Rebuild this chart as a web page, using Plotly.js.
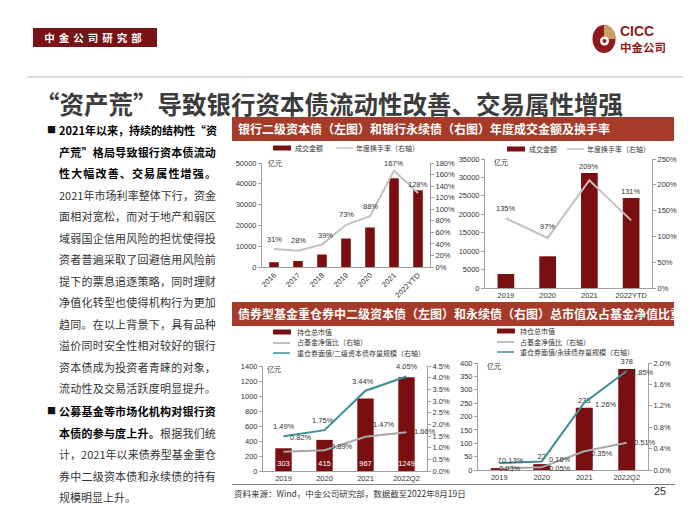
<!DOCTYPE html>
<html lang="zh-CN">
<head>
<meta charset="utf-8">
<script src="https://cdn.plot.ly/plotly-3.0.1.min.js"></script>
<style>
  html, body { margin: 0; padding: 0; background: #fff; }
  body { width: 700px; height: 525px; position: relative; overflow: hidden;
         font-family: "Noto Sans CJK SC", "Liberation Sans", sans-serif; }
  .abs { position: absolute; }
  #dept { left: 33px; top: 28px; width: 124px; height: 19px; background: #7a1315; color: #fff;
          font-size: 10.5px; font-weight: bold; line-height: 19px; text-align: center; letter-spacing: 4px; }
  #cicc { left: 620px; top: 24px; font-family: "Liberation Sans", sans-serif; font-size: 14px;
          font-weight: bold; color: #8e1c1c; line-height: 14px; }
  #cicc-cn { left: 620px; top: 41px; font-size: 11.5px; font-weight: bold; color: #8e1c1c; line-height: 12px; }
  #rule { left: 27px; top: 76px; width: 656px; height: 2px; background: #dcdcdc; }
  #title { left: 35px; top: 89px; font-size: 24.5px; line-height: 30px; color: #3c3c3c;
           font-weight: bold; white-space: nowrap; }
  .sect { left: 232px; width: 442px; height: 24px; background: #a63b29; color: #fff; font-size: 12px;
          font-weight: bold; line-height: 24px; padding-left: 6px; box-sizing: border-box; white-space: nowrap; }
  .ln { position: absolute; left: 59px; width: 157px; height: 18px; font-size: 11px; line-height: 18px;
        color: #333; justify-content: space-between; }
  .bullet { position: absolute; left: 47px; font-size: 9px; line-height: 18px; color: #111; }
  #src-rule { left: 232px; top: 484px; width: 443px; height: 1px; background: #7f7f7f; }
  #src { left: 234px; top: 487px; font-size: 8.5px; line-height: 12px; color: #333; white-space: nowrap; }
  #page { left: 654px; top: 485px; font-family: "Liberation Sans", sans-serif; font-size: 11px; color: #333; }
  .plot { position: absolute; }
</style>
</head>
<body>
<div id="dept" class="abs">中金公司研究部</div>
<svg class="abs" style="left:591px;top:24px" width="26" height="30" viewBox="0 0 26 30">
  <ellipse cx="13" cy="15" rx="11.5" ry="14" fill="#8e1c1c"/>
  <path d="M13 15 L13 1 A11.5 14 0 0 1 24.5 15 Z" fill="#c9a063"/>
  <circle cx="13.5" cy="17" r="4.5" fill="#fff"/>
  <circle cx="13.5" cy="17" r="2" fill="#8e1c1c"/>
</svg>
<div id="cicc" class="abs">CICC</div>
<div id="cicc-cn" class="abs">中金公司</div>
<div id="rule" class="abs"></div>
<div id="title" class="abs">“资产荒”导致银行资本债流动性改善、交易属性增强</div>

<div class="abs sect" style="top:117px">银行二级资本债（左图）和银行永续债（右图）年度成交金额及换手率</div>
<div class="abs sect" style="top:302px">债券型基金重仓券中二级资本债（左图）和永续债（右图）总市值及占基金净值比重</div>

<div id="text"></div>

<div id="src-rule" class="abs"></div>
<div id="src" class="abs">资料来源：Wind，中金公司研究部，数据截至2022年8月19日</div>
<div id="page" class="abs">25</div>

<script>
// 银行二级资本债：年度成交金额（亿元）及年度换手率
const tier2Years = ["2016", "2017", "2018", "2019", "2020", "2021", "2022YTD"];
const tier2Volume = [2300, 2900, 6000, 13700, 19000, 42700, 36900];
const tier2Turnover = [0.31, 0.28, 0.39, 0.73, 0.88, 1.67, 1.28];

// 银行永续债：年度成交金额（亿元）及年度换手率
const perpYears = ["2019", "2020", "2021", "2022YTD"];
const perpVolume = [3800, 8600, 31200, 24400];
const perpTurnover = [1.35, 0.97, 2.09, 1.31];

// 债券型基金重仓券：二级资本债
const fundPeriods = ["2019", "2020", "2021", "2022Q2"];
const fundTier2Value = [303, 415, 967, 1249];
const fundTier2NavShare = [0.0082, 0.0089, 0.0147, 0.0166];
const fundTier2StockShare = [0.0149, 0.0175, 0.0344, 0.0405];

// 债券型基金重仓券：永续债
const fundPerpValue = [7, 22, 233, 378];
const fundPerpNavShare = [0.0003, 0.0005, 0.0035, 0.0051];
const fundPerpStockShare = [0.0013, 0.0016, 0.0126, 0.0185];

const MAROON = "#7a0f12";
const LIGHT_GRAY = "#c2c2c2";
const GRAY = "#a8a8a8";
const TEAL = "#3e8e98";
const AXIS = "#a0a0a0";
const FONT = "'Liberation Sans', 'Noto Sans CJK SC', sans-serif";

// Left column text, one entry per printed line: [[text, bold], ...]
const textLines = [
  [["2021年以来，持续的结构性“资", true]],
  [["产荒” 格局导致银行资本债流动", true]],
  [["性大幅改善、交易属性增强。", true]],
  [["2021年市场利率整体下行，资金", false]],
  [["面相对宽松，而对于地产和弱区", false]],
  [["域弱国企信用风险的担忧使得投", false]],
  [["资者普遍采取了回避信用风险前", false]],
  [["提下的票息追逐策略，同时理财", false]],
  [["净值化转型也使得机构行为更加", false]],
  [["趋同。在以上背景下，具有品种", false]],
  [["溢价同时安全性相对较好的银行", false]],
  [["资本债成为投资者青睐的对象，", false]],
  [["流动性及交易活跃度明显提升。", false]],
  [["公募基金等市场化机构对银行资", true]],
  [["本债的参与度上升。", true], ["根据我们统", false]],
  [["计，2021年以来债券型基金重仓", false]],
  [["券中二级资本债和永续债的持有", false]],
  [["规模明显上升。", false]],
];

function drawText() {
  const box = document.getElementById("text");
  textLines.forEach((parts, i) => {
    const center = i < 13 ? 130 + i * 21.5 : 411 + (i - 13) * 21.5;
    const top = center - 9;
    if (i === 0 || i === 13) {
      const b = document.createElement("div");
      b.className = "bullet";
      b.style.top = top + "px";
      b.textContent = "■";
      box.appendChild(b);
    }
    const el = document.createElement("div");
    el.className = "ln";
    el.style.top = top + "px";
    // last line of the second paragraph is not spread out
    el.style.display = i === textLines.length - 1 ? "block" : "flex";
    for (const [text, bold] of parts) {
      for (const tok of text.match(/[A-Za-z0-9]+|./gu)) {
        const s = document.createElement("span");
        s.textContent = tok;
        if (bold) {
          s.style.fontWeight = "bold";
          s.style.color = "#000";
        }
        el.appendChild(s);
      }
    }
    box.appendChild(el);
  });
}

function geom(div, plot) {
  return {
    div,
    plot,
    margin: {
      l: plot.x0 - div.left,
      r: div.left + div.w - plot.x1,
      t: plot.y0 - div.top,
      b: div.top + div.h - plot.y1,
      pad: 0,
    },
    px: (x) => (x - plot.x0) / (plot.x1 - plot.x0),
    py: (y) => (plot.y1 - y) / (plot.y1 - plot.y0),
  };
}

function legendDecor(g, items, unit) {
  const shapes = [];
  const annotations = [];
  for (const it of items) {
    if (it.kind === "bar") {
      shapes.push({
        type: "rect", xref: "paper", yref: "paper",
        x0: g.px(it.x), x1: g.px(it.x + 18), y0: g.py(it.y + 2.5), y1: g.py(it.y - 2.5),
        fillcolor: it.color, line: { width: 0 },
      });
    } else {
      shapes.push({
        type: "line", xref: "paper", yref: "paper",
        x0: g.px(it.x), x1: g.px(it.x + 17), y0: g.py(it.y), y1: g.py(it.y),
        line: { color: it.color, width: 1.5 },
      });
    }
    annotations.push({
      xref: "paper", yref: "paper", x: g.px(it.tx), y: g.py(it.y),
      xanchor: "left", yanchor: "middle", text: it.text, showarrow: false,
      font: { size: 7, color: "#333" },
    });
  }
  annotations.push({
    xref: "paper", yref: "paper", x: g.px(unit.x), y: g.py(unit.y),
    xanchor: "left", yanchor: "middle", text: "亿元", showarrow: false,
    font: { size: 7, color: "#333" },
  });
  return { shapes, annotations };
}

// Value labels next to the line points, shifted by [dx, dy] pixels (dy up).
// x is the category index, since year-like names would be read as numbers.
function pointLabels(y, digits, shifts) {
  return y.map((v, i) => ({
    x: i, y: v, xref: "x", yref: "y2",
    text: (v * 100).toFixed(digits) + "%",
    showarrow: false, xanchor: "center", yanchor: "middle",
    xshift: shifts[i][0], yshift: shifts[i][1],
    font: { size: 7.5, color: "#333" },
  }));
}

function axisStyle(extra) {
  return Object.assign(
    {
      showgrid: false, zeroline: false, showline: true, linecolor: AXIS, linewidth: 1,
      ticks: "outside", ticklen: 3, tickcolor: AXIS, tickfont: { size: 7.5, color: "#333" },
      fixedrange: true,
    },
    extra
  );
}

function baseLayout(g, decor, labels, categories) {
  return {
    width: g.div.w,
    height: g.div.h,
    margin: g.margin,
    paper_bgcolor: "rgba(0,0,0,0)",
    plot_bgcolor: "rgba(0,0,0,0)",
    showlegend: false,
    font: { family: FONT, size: 7.5, color: "#333" },
    xaxis: {
      type: "category", categoryorder: "array", categoryarray: categories,
      range: [-0.5, categories.length - 0.5],
      showline: true, linecolor: AXIS, ticks: "", showgrid: false,
      tickfont: { size: 7.5, color: "#333" }, fixedrange: true,
    },
    shapes: decor.shapes,
    annotations: decor.annotations.concat(labels),
  };
}

function makeDiv(g) {
  const d = document.createElement("div");
  d.className = "plot";
  d.style.left = g.div.left + "px";
  d.style.top = g.div.top + "px";
  d.style.width = g.div.w + "px";
  d.style.height = g.div.h + "px";
  document.body.appendChild(d);
  return d;
}

function lineTrace(x, y, color) {
  return {
    type: "scatter", mode: "lines", x, y, yaxis: "y2",
    line: { color, width: 2 }, cliponaxis: false, hoverinfo: "skip",
  };
}

const config = { staticPlot: true, displayModeBar: false };

function drawTier2Trading() {
  const g = geom({ left: 226, top: 141, w: 244, h: 161 }, { x0: 262, x1: 430, y0: 163, y1: 267 });
  const decor = legendDecor(
    g,
    [
      { kind: "bar", color: MAROON, x: 273, tx: 293, y: 148, text: "成交金额" },
      { kind: "line", color: LIGHT_GRAY, x: 336, tx: 354, y: 148, text: "年度换手率（右轴）" },
    ],
    { x: 266, y: 164 }
  );
  const labels = pointLabels(tier2Turnover, 0,
    [[0, 10], [0, 10], [3, 9], [0, 10], [0, 10], [0, 7], [0, 9]]);
  const layout = baseLayout(g, decor, labels, tier2Years);
  layout.xaxis.tickangle = -45;
  layout.yaxis = axisStyle({ range: [0, 50000], dtick: 10000, tickformat: "d" });
  layout.yaxis2 = axisStyle({ overlaying: "y", side: "right", range: [0, 1.8], dtick: 0.2, tickformat: ".0%" });
  const traces = [
    { type: "bar", x: tier2Years, y: tier2Volume, width: 0.4, marker: { color: MAROON }, hoverinfo: "skip" },
    lineTrace(tier2Years, tier2Turnover, LIGHT_GRAY),
  ];
  Plotly.newPlot(makeDiv(g), traces, layout, config);
}

function drawPerpTrading() {
  const g = geom({ left: 452, top: 141, w: 234, h: 161 }, { x0: 485, x1: 652, y0: 159, y1: 288 });
  const decor = legendDecor(
    g,
    [
      { kind: "bar", color: MAROON, x: 507, tx: 527, y: 149, text: "成交金额" },
      { kind: "line", color: LIGHT_GRAY, x: 567, tx: 585, y: 149, text: "年度换手率（右轴）" },
    ],
    { x: 492, y: 162 }
  );
  const labels = pointLabels(perpTurnover, 0, [[0, 10], [0, 11], [0, 14], [0, 29]]);
  const layout = baseLayout(g, decor, labels, perpYears);
  layout.yaxis = axisStyle({ range: [0, 35000], dtick: 5000, tickformat: "d" });
  layout.yaxis2 = axisStyle({ overlaying: "y", side: "right", range: [0, 2.5], dtick: 0.5, tickformat: ".0%" });
  const traces = [
    { type: "bar", x: perpYears, y: perpVolume, width: 0.4, marker: { color: MAROON }, hoverinfo: "skip" },
    lineTrace(perpYears, perpTurnover, LIGHT_GRAY),
  ];
  Plotly.newPlot(makeDiv(g), traces, layout, config);
}

function drawFundTier2() {
  const g = geom({ left: 226, top: 326, w: 244, h: 160 }, { x0: 263, x1: 427, y0: 366, y1: 471 });
  const decor = legendDecor(
    g,
    [
      { kind: "bar", color: MAROON, x: 273, tx: 295, y: 332, text: "持仓总市值" },
      { kind: "line", color: GRAY, x: 273, tx: 295, y: 343, text: "占基金净值比（右轴）" },
      { kind: "line", color: TEAL, x: 273, tx: 295, y: 353, text: "重仓券面值/二级资本债存量规模（右轴）" },
    ],
    { x: 265, y: 369 }
  );
  const labels = pointLabels(fundTier2StockShare, 2, [[0, 10], [-2, 10], [-3, 9], [0, 10]])
    .concat(pointLabels(fundTier2NavShare, 2, [[17, 14], [17, 4], [18, 12], [18, 1]]));
  const layout = baseLayout(g, decor, labels, fundPeriods);
  layout.yaxis = axisStyle({ range: [0, 1400], dtick: 200, tickformat: "d" });
  layout.yaxis2 = axisStyle({ overlaying: "y", side: "right", range: [0, 0.045], dtick: 0.005, tickformat: ".1%" });
  const traces = [
    {
      type: "bar", x: fundPeriods, y: fundTier2Value, width: 0.4, marker: { color: MAROON },
      texttemplate: "%{y}", textposition: "inside", insidetextanchor: "start", textangle: 0,
      constraintext: "none", insidetextfont: { size: 7.5, color: "#fff" }, hoverinfo: "skip",
    },
    lineTrace(fundPeriods, fundTier2NavShare, GRAY),
    lineTrace(fundPeriods, fundTier2StockShare, TEAL),
  ];
  Plotly.newPlot(makeDiv(g), traces, layout, config);
}

function drawFundPerp() {
  const g = geom({ left: 452, top: 326, w: 234, h: 160 }, { x0: 478, x1: 648, y0: 363, y1: 470 });
  const decor = legendDecor(
    g,
    [
      { kind: "bar", color: MAROON, x: 497, tx: 518, y: 331, text: "持仓总市值" },
      { kind: "line", color: GRAY, x: 497, tx: 518, y: 342, text: "占基金净值比（右轴）" },
      { kind: "line", color: TEAL, x: 497, tx: 518, y: 352, text: "重仓券面值/永续债存量规模（右轴）" },
    ],
    { x: 485, y: 366 }
  );
  const labels = pointLabels(fundPerpStockShare, 2, [[14, 3], [18, 2], [22, -2], [16, -1]])
    .concat(pointLabels(fundPerpNavShare, 2, [[11, 0], [18, -1], [18, -2], [18, 0]]));
  const layout = baseLayout(g, decor, labels, fundPeriods);
  layout.yaxis = axisStyle({ range: [0, 400], dtick: 50, tickformat: "d" });
  layout.yaxis2 = axisStyle({ overlaying: "y", side: "right", range: [0, 0.02], dtick: 0.004, tickformat: ".1%" });
  const traces = [
    {
      type: "bar", x: fundPeriods, y: fundPerpValue, width: 0.4, marker: { color: MAROON },
      texttemplate: "%{y}", textposition: "outside", textangle: 0, constraintext: "none",
      outsidetextfont: { size: 7.5, color: "#333" }, cliponaxis: false, hoverinfo: "skip",
    },
    lineTrace(fundPeriods, fundPerpNavShare, GRAY),
    lineTrace(fundPeriods, fundPerpStockShare, TEAL),
  ];
  Plotly.newPlot(makeDiv(g), traces, layout, config);
}

drawText();
drawTier2Trading();
drawPerpTrading();
drawFundTier2();
drawFundPerp();
</script>
</body>
</html>
